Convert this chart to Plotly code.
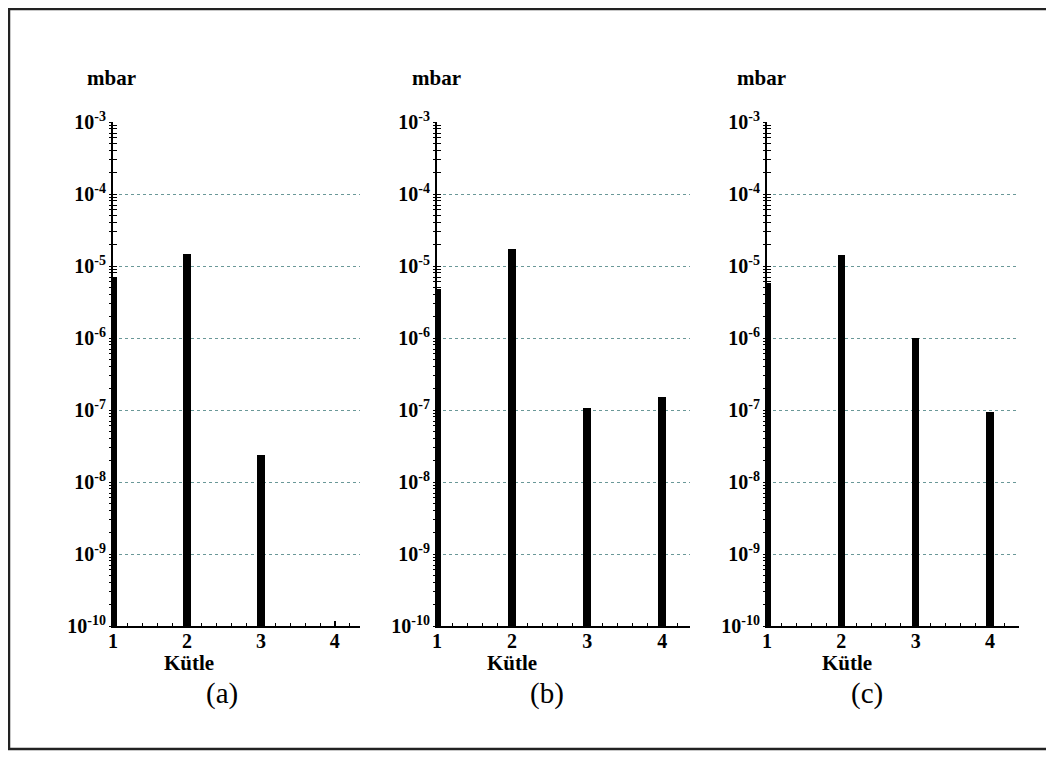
import plotly.graph_objects as go

masses = [1, 2, 3, 4]
panel_a = [7.0e-6, 1.45e-5, 2.4e-8, None]
panel_b = [4.8e-6, 1.7e-5, 1.05e-7, 1.5e-7]
panel_c = [5.8e-6, 1.4e-5, 1.0e-6, 9.5e-8]
panels = [panel_a, panel_b, panel_c]
panel_labels = ["(a)", "(b)", "(c)"]
y_tickvals = [1e-10, 1e-9, 1e-8, 1e-7, 1e-6, 1e-5, 1e-4, 1e-3]
y_ticktext = ["10<sup>-10</sup>", "10<sup>-9</sup>", "10<sup>-8</sup>", "10<sup>-7</sup>",
              "10<sup>-6</sup>", "10<sup>-5</sup>", "10<sup>-4</sup>", "10<sup>-3</sup>"]
x_tickvals = [1, 2, 3, 4]
x_ticktext = ["1", "2", "3", "4"]
y_unit = "mbar"
x_title = "Kütle"

# minor log tick positions (axis decoration)
y_minor = [m * 10.0 ** e for e in range(-10, -3) for m in range(1, 10)] + [1e-3]

W, H = 1054, 758
OFF = 8  # page body offset


def px(v):
    return (v - OFF) / W


def py(v):
    return 1 - (v - OFF) / H


FONT = "Liberation Serif"
x_domains = [(px(113), px(360)), (px(437), px(690)), (px(767), px(1019))]
y_domain = (py(626), py(122))
x_ranges = [[1, 4.34], [1, 4.37], [1, 4.39]]

fig = go.Figure()
for i, vals in enumerate(panels):
    n = "" if i == 0 else str(i + 1)
    fig.add_trace(go.Bar(x=masses, y=vals, width=0.1, marker=dict(color="black", line=dict(width=0)),
                         xaxis="x" + n, yaxis="y" + n, showlegend=False))
    fig.layout["xaxis" + n] = dict(
        domain=list(x_domains[i]), anchor="y" + n, range=x_ranges[i], automargin=False,
        tickvals=x_tickvals, ticktext=x_ticktext, showgrid=False, zeroline=False,
        showline=True, linecolor="black", linewidth=1.5,
        ticks="inside", ticklen=5, tickwidth=1.5, tickcolor="black", ticklabelstandoff=-4,
        minor=dict(dtick=0.2, ticks="inside", ticklen=3, tickwidth=1, tickcolor="black", showgrid=False),
        tickfont=dict(family=FONT, size=20, color="black", weight="bold"),
    )
    fig.layout["yaxis" + n] = dict(
        domain=list(y_domain), anchor="x" + n, type="log", range=[-10, -3], automargin=False,
        tickvals=y_tickvals, ticktext=y_ticktext,
        showgrid=True, gridcolor="#6a9898", griddash="dot", gridwidth=1.4,
        zeroline=False, showline=True, linecolor="black", linewidth=2,
        ticks="", ticklabelstandoff=1,
        tickfont=dict(family=FONT, size=20, color="black", weight="bold"),
    )
    # overlay axes carrying the crossing log minor ticks
    for k, side_ticks in enumerate(["inside", "outside"]):
        m = str(4 + i * 2 + k)
        fig.add_trace(go.Bar(x=masses, y=vals, width=0.1, marker=dict(color="rgba(0,0,0,0)", line=dict(width=0)),
                             xaxis="x" + n, yaxis="y" + m, showlegend=False, hoverinfo="skip"))
        fig.layout["yaxis" + m] = dict(
            domain=list(y_domain), anchor="x" + n, overlaying="y" + n, side="left", type="log",
            range=[-10, -3], automargin=False, tickvals=y_minor, showticklabels=False, showgrid=False,
            zeroline=False, showline=False, ticks=side_ticks, ticklen=3.5, tickwidth=1.2, tickcolor="black",
        )

label_x = [222, 547, 867]
mbar_x = [111, 436, 761]
kutle_x = [2.03, 2.0, 2.07]
for i in range(3):
    n = "" if i == 0 else str(i + 1)
    fig.add_annotation(text="<b>" + y_unit + "</b>", xref="paper", yref="paper",
                       x=px(mbar_x[i]), y=py(78), showarrow=False, xanchor="center", yanchor="middle",
                       font=dict(family=FONT, size=21, color="black"))
    fig.add_annotation(text="<b>" + x_title + "</b>", xref="x" + n, yref="paper",
                       x=kutle_x[i], y=py(663), showarrow=False, xanchor="center", yanchor="middle",
                       font=dict(family=FONT, size=21, color="black"))
    fig.add_annotation(text=panel_labels[i], xref="paper", yref="paper",
                       x=px(label_x[i]), y=py(693), showarrow=False, xanchor="center", yanchor="middle",
                       font=dict(family=FONT, size=29, color="black"))

fig.add_shape(type="rect", xref="paper", yref="paper", x0=px(9), x1=px(1048), y0=py(749), y1=py(9),
              line=dict(color="#222222", width=2.5))

fig.update_layout(width=W, height=H, margin=dict(l=0, r=0, t=0, b=0, autoexpand=False),
                  plot_bgcolor="white", paper_bgcolor="white", bargap=0, barmode="overlay")
fig.write_html("out.html")
